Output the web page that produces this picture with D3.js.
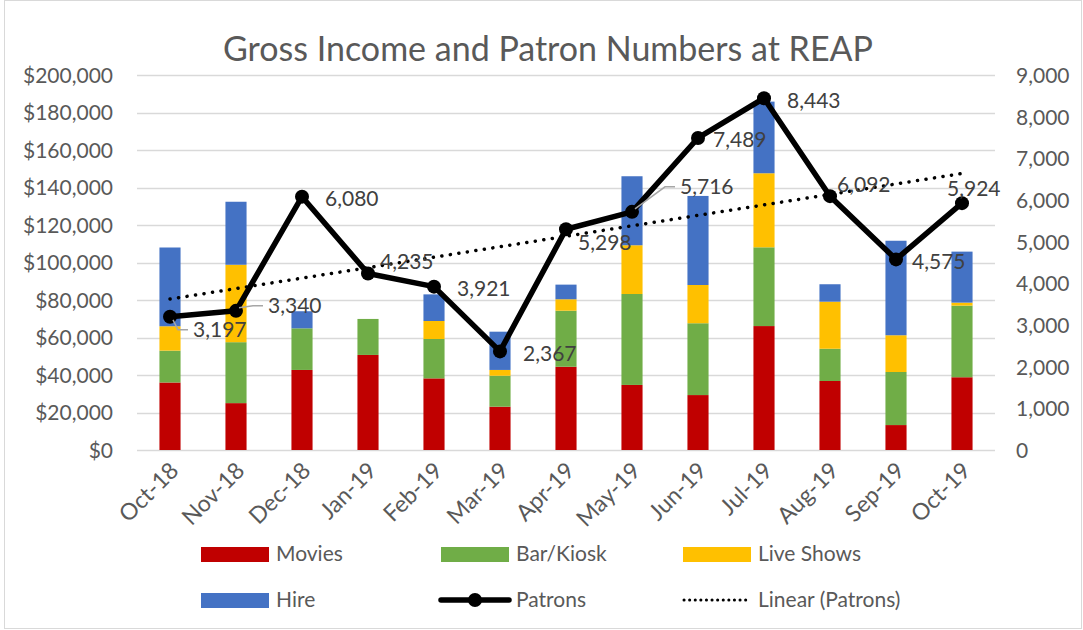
<!DOCTYPE html>
<html>
<head>
<meta charset="utf-8">
<style>
  body { margin: 0; background: #fff; }
  svg text { font-family: Lato, "Open Sans", sans-serif; }
</style>
</head>
<body>
<svg width="1083" height="630"></svg>
<script src="https://d3js.org/d3.v7.min.js"></script>
<script>
    // data
    var months = ["Oct-18", "Nov-18", "Dec-18", "Jan-19", "Feb-19", "Mar-19", "Apr-19",
        "May-19", "Jun-19", "Jul-19", "Aug-19", "Sep-19", "Oct-19"];
    var movies = [36000, 25000, 42700, 50700, 38200, 23100, 44400, 34700, 29300, 66100, 36800, 13300, 38800];
    var barKiosk = [17000, 32500, 22200, 19200, 21000, 16500, 29900, 48500, 38300, 42000, 17200, 28300, 38200];
    var liveShows = [13000, 41300, 0, 0, 9600, 3100, 6100, 26000, 20400, 39500, 25100, 19600, 1600];
    var hire = [42000, 33600, 9100, 0, 14200, 20400, 7800, 36800, 47500, 38200, 9300, 50400, 27200];
    var patrons = [3197, 3340, 6080, 4235, 3921, 2367, 5298, 5716, 7489, 8443, 6092, 4575, 5924];
    var incomeTicks = [0, 20000, 40000, 60000, 80000, 100000, 120000, 140000, 160000, 180000, 200000];
    var patronTicks = [0, 1000, 2000, 3000, 4000, 5000, 6000, 7000, 8000, 9000];

    var seriesNames = ["Movies", "Bar/Kiosk", "Live Shows", "Hire"];
    var seriesColors = ["#C00000", "#70AD47", "#FFC000", "#4472C4"];

    // label nudges (dx, dy from the marker), leader lines where Excel drew them
    var labelNudge = [[23, 13, 1], [32, -5, 1], [23, 2], [12, -12], [23, 2], [23, 2], [12, 13],
        [48, -25, 1], [15, 2], [23, 2], [7, -12], [16, 2], [-15, -15]];

    var svg = d3.select("svg"),
        width = +svg.attr("width"),
        height = +svg.attr("height");

    var grey = "#595959";

    svg.append("rect")
        .attr("x", 4.5).attr("y", 0.5)
        .attr("width", width - 6).attr("height", height - 2)
        .attr("fill", "#fff")
        .attr("stroke", "#d9d9d9");

    var x = d3.scaleBand()
        .domain(months)
        .range([137, 995])
        .paddingInner(0.68)
        .paddingOuter(0.34);
    var yL = d3.scaleLinear().domain([0, 200000]).range([450, 75]);
    var yR = d3.scaleLinear().domain([0, 9000]).range([450, 75]);

    // gridlines
    svg.append("g")
        .selectAll("line")
        .data(incomeTicks)
        .join("line")
        .attr("x1", 137).attr("x2", 995)
        .attr("y1", function(d) { return Math.round(yL(d)) + 0.5; })
        .attr("y2", function(d) { return Math.round(yL(d)) + 0.5; })
        .attr("stroke", "#d9d9d9")
        .attr("stroke-width", 1.5);

    // left axis
    var fmtMoney = function(d) { return "$" + d3.format(",")(d); };
    svg.append("g")
        .attr("transform", "translate(113,0)")
        .call(d3.axisLeft(yL).tickValues(incomeTicks).tickFormat(fmtMoney).tickSize(0).tickPadding(0))
        .call(function(g) {
            g.select(".domain").remove();
            g.selectAll("text").attr("font-size", 21).attr("fill", grey).attr("dy", "0.35em");
        });

    // right axis
    svg.append("g")
        .attr("transform", "translate(1016,0)")
        .call(d3.axisRight(yR).tickValues(patronTicks).tickFormat(d3.format(",")).tickSize(0).tickPadding(0))
        .call(function(g) {
            g.select(".domain").remove();
            g.selectAll("text").attr("font-size", 21).attr("fill", grey).attr("dy", "0.35em");
        });

    // stacked bars
    var rows = months.map(function(m, i) {
        return { month: m, "Movies": movies[i], "Bar/Kiosk": barKiosk[i], "Live Shows": liveShows[i], "Hire": hire[i] };
    });
    var stacked = d3.stack().keys(seriesNames)(rows);

    svg.append("g")
        .selectAll("g")
        .data(stacked)
        .join("g")
        .attr("fill", function(d, i) { return seriesColors[i]; })
        .selectAll("rect")
        .data(function(d) { return d; })
        .join("rect")
        .attr("x", function(d) { return x(d.data.month); })
        .attr("width", x.bandwidth())
        .attr("y", function(d) { return yL(d[1]); })
        .attr("height", function(d) { return yL(d[0]) - yL(d[1]); });

    // x labels
    svg.append("g")
        .selectAll("text")
        .data(months)
        .join("text")
        .attr("transform", function(d) {
            return "translate(" + (x(d) + x.bandwidth() / 2 + 10) + ",472) rotate(-45)";
        })
        .attr("text-anchor", "end")
        .attr("font-size", 23)
        .attr("fill", grey)
        .text(function(d) { return d; });

    var cx = function(i) { return x(months[i]) + x.bandwidth() / 2; };

    // linear trend of patrons (least squares)
    var n = patrons.length,
        mx = (n - 1) / 2,
        my = d3.mean(patrons),
        sxy = d3.sum(patrons, function(p, i) { return (i - mx) * (p - my); }),
        sxx = d3.sum(patrons, function(p, i) { return (i - mx) * (i - mx); }),
        slope = sxy / sxx;
    svg.append("line")
        .attr("x1", cx(0)).attr("y1", yR(my - slope * mx))
        .attr("x2", cx(n - 1)).attr("y2", yR(my + slope * mx))
        .attr("stroke", "#000")
        .attr("stroke-width", 3.5)
        .attr("stroke-linecap", "round")
        .attr("stroke-dasharray", "0.1,8.5");

    // patrons line
    var line = d3.line()
        .x(function(d, i) { return cx(i); })
        .y(function(d) { return yR(d); });
    svg.append("path")
        .attr("d", line(patrons))
        .attr("fill", "none")
        .attr("stroke", "#000")
        .attr("stroke-width", 5.5)
        .attr("stroke-linejoin", "round");
    svg.append("g")
        .selectAll("circle")
        .data(patrons)
        .join("circle")
        .attr("cx", function(d, i) { return cx(i); })
        .attr("cy", function(d) { return yR(d); })
        .attr("r", 7)
        .attr("fill", "#000");

    // leader lines
    patrons.forEach(function(p, i) {
        var nd = labelNudge[i];
        if (!nd[2]) return;
        var px = cx(i), py = yR(p), lx = px + nd[0] - 5, ly = py + nd[1];
        svg.append("polyline")
            .attr("points", [[px + 3, py + Math.sign(nd[1]) * 3], [lx - 10, ly], [lx, ly]].join(" "))
            .attr("fill", "none")
            .attr("stroke", "#a6a6a6")
            .attr("stroke-width", 1.5);
    });

    // data labels
    svg.append("g")
        .selectAll("text")
        .data(patrons)
        .join("text")
        .attr("x", function(d, i) { return cx(i) + labelNudge[i][0]; })
        .attr("y", function(d, i) { return yR(d) + labelNudge[i][1]; })
        .attr("dy", "0.35em")
        .attr("font-size", 21)
        .attr("fill", "#404040")
        .text(function(d) { return d3.format(",")(d); });

    // title
    svg.append("text")
        .attr("x", 548).attr("y", 61)
        .attr("text-anchor", "middle")
        .attr("font-size", 34)
        .attr("fill", grey)
        .text("Gross Income and Patron Numbers at REAP");

    // legend
    var legendItems = [
        { name: "Movies", type: "rect", color: seriesColors[0] },
        { name: "Bar/Kiosk", type: "rect", color: seriesColors[1] },
        { name: "Live Shows", type: "rect", color: seriesColors[2] },
        { name: "Hire", type: "rect", color: seriesColors[3] },
        { name: "Patrons", type: "line" },
        { name: "Linear (Patrons)", type: "trend" }
    ];
    var legendCols = [201, 441, 683],
        legendRows = [554, 600];
    var lg = svg.append("g")
        .selectAll("g")
        .data(legendItems)
        .join("g")
        .attr("transform", function(d, i) {
            return "translate(" + legendCols[i % 3] + "," + legendRows[Math.floor(i / 3)] + ")";
        });
    lg.each(function(d) {
        var g = d3.select(this);
        if (d.type == "rect") {
            g.append("rect").attr("x", 0).attr("y", -7).attr("width", 68).attr("height", 15).attr("fill", d.color);
        } else if (d.type == "line") {
            g.append("line").attr("x1", 0).attr("x2", 68).attr("y1", 0).attr("y2", 0)
                .attr("stroke", "#000").attr("stroke-width", 5.5).attr("stroke-linecap", "round");
            g.append("circle").attr("cx", 34).attr("cy", 0).attr("r", 7).attr("fill", "#000");
        } else {
            g.append("line").attr("x1", 1).attr("x2", 68).attr("y1", 0).attr("y2", 0)
                .attr("stroke", "#000").attr("stroke-width", 3).attr("stroke-linecap", "round")
                .attr("stroke-dasharray", "0.1,5.5");
        }
        g.append("text")
            .attr("x", 75).attr("y", 0).attr("dy", "0.35em")
            .attr("font-size", 21)
            .attr("fill", grey)
            .text(d.name);
    });
</script>
</body>
</html>
